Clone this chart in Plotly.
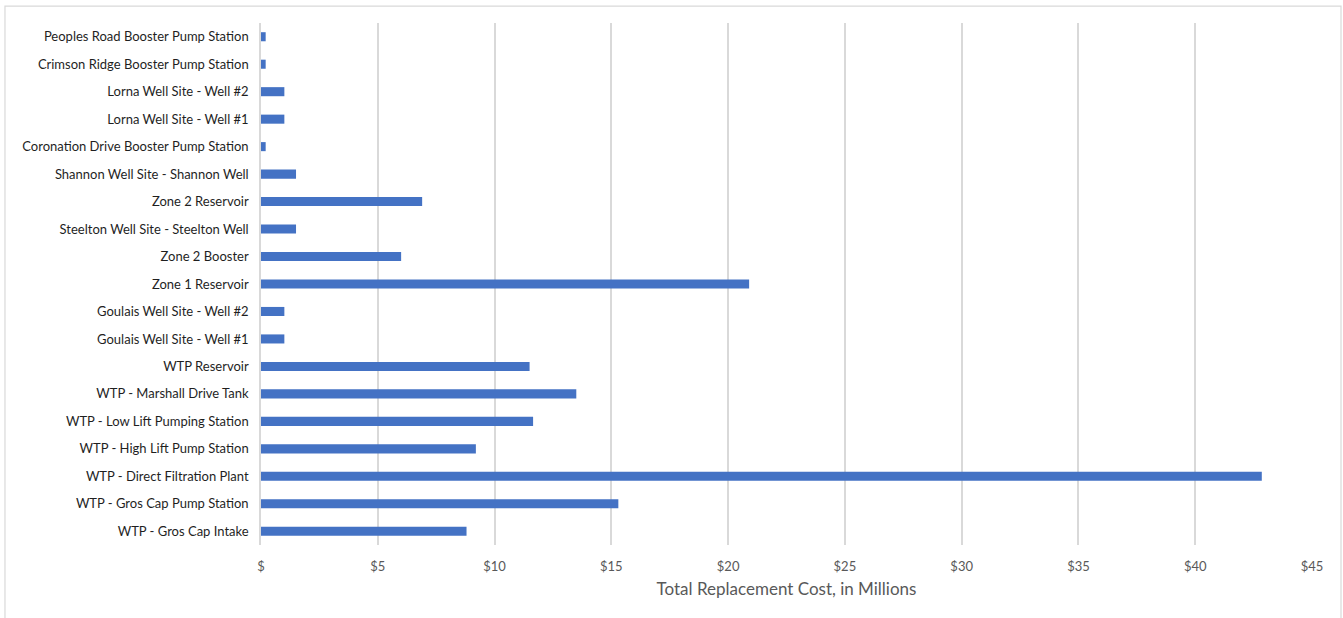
import plotly.graph_objects as go

# Facilities, listed bottom-to-top as they appear on the y axis
facilities = [
    "WTP - Gros Cap Intake",
    "WTP - Gros Cap Pump Station",
    "WTP - Direct Filtration Plant",
    "WTP - High Lift Pump Station",
    "WTP - Low Lift Pumping Station",
    "WTP - Marshall Drive Tank",
    "WTP Reservoir",
    "Goulais Well Site - Well #1",
    "Goulais Well Site - Well #2",
    "Zone 1 Reservoir",
    "Zone 2 Booster",
    "Steelton Well Site - Steelton Well",
    "Zone 2 Reservoir",
    "Shannon Well Site - Shannon Well",
    "Coronation Drive Booster Pump Station",
    "Lorna Well Site - Well #1",
    "Lorna Well Site - Well #2",
    "Crimson Ridge Booster Pump Station",
    "Peoples Road Booster Pump Station",
]

# Total replacement cost, millions of dollars
cost_millions = [
    8.8, 15.3, 42.85, 9.2, 11.65, 13.5, 11.5,
    1.0, 1.0, 20.9, 6.0, 1.5, 6.9, 1.5,
    0.2, 1.0, 1.0, 0.2, 0.2,
]

tick_values = [0, 5, 10, 15, 20, 25, 30, 35, 40, 45]
tick_labels = ["$", "$5", "$10", "$15", "$20", "$25", "$30", "$35", "$40", "$45"]

FONT = "Lato, 'Open Sans', Calibri, sans-serif"

fig = go.Figure(
    go.Bar(
        x=cost_millions,
        y=facilities,
        orientation="h",
        marker=dict(color="#4472C4", line=dict(width=0)),
        width=0.33,
        hoverinfo="x+y",
    )
)

fig.update_layout(
    width=1343,
    height=618,
    margin=dict(l=261, r=31, t=23, b=73),
    paper_bgcolor="white",
    plot_bgcolor="white",
    showlegend=False,
    font=dict(family=FONT, color="#404040"),
    shapes=[
        dict(
            type="rect", xref="paper", yref="paper",
            x0=-0.2436, x1=1.0276, y0=-0.15, y1=1.0325,
            line=dict(color="#d9d9d9", width=1.2),
            fillcolor="rgba(0,0,0,0)", layer="below",
        )
    ],
)

fig.update_xaxes(
    range=[0, 45],
    tickvals=tick_values,
    ticktext=tick_labels,
    showgrid=True,
    gridcolor="#d9d9d9",
    gridwidth=1.5,
    zeroline=False,
    showline=False,
    ticks="",
    ticklabelstandoff=12,
    tickfont=dict(size=13, color="#595959", family=FONT),
    title=dict(
        text="Total Replacement Cost, in Millions",
        font=dict(size=17, color="#595959", family=FONT),
        standoff=10,
    ),
    fixedrange=True,
)

fig.update_yaxes(
    categoryorder="array",
    categoryarray=facilities,
    range=[-0.5, len(facilities) - 0.5],
    showgrid=False,
    zeroline=False,
    showline=True,
    linecolor="#d9d9d9",
    linewidth=1.5,
    ticks="",
    ticklabelstandoff=8,
    tickfont=dict(size=13, color="#1f1f1f", family=FONT),
    fixedrange=True,
)

fig.write_html("out.html")
